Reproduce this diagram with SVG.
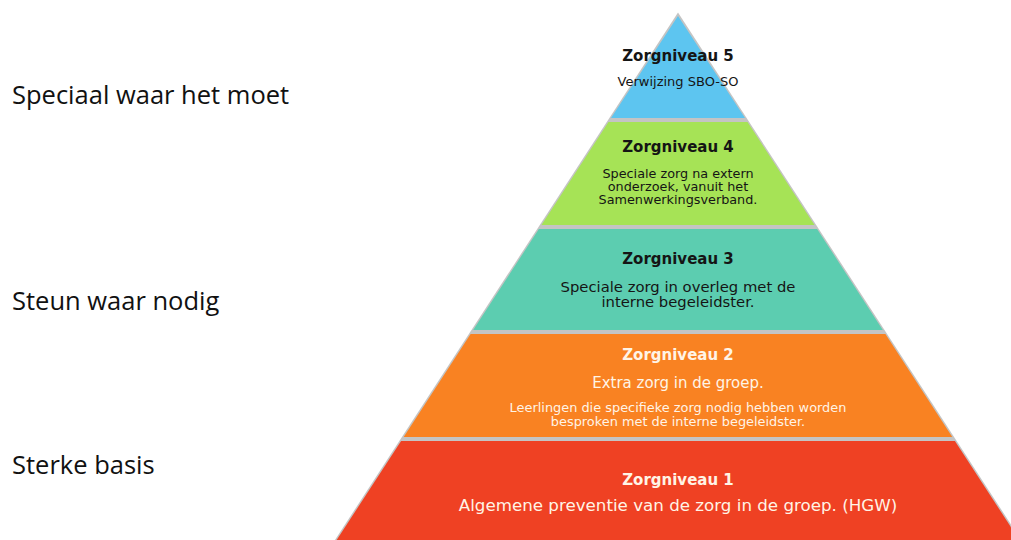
<svg xmlns="http://www.w3.org/2000/svg" width="1011" height="540" viewBox="0 0 1011 540">
  <style>
    .side { font-family: "Open Sans", "Noto Sans", sans-serif; font-size: 25.5px; fill: #111111; }
    .t { font-family: "DejaVu Sans", "Liberation Sans", sans-serif; text-anchor: middle; }
    .title { font-weight: bold; font-size: 15px; }
    .dark { fill: #151515; }
    .light { fill: #fff4e6; }
  </style>
  <rect width="1011" height="540" fill="#ffffff"/>
  <g id="labels">
    <text class="side" x="12" y="104">Speciaal waar het moet</text>
    <text class="side" x="12" y="310">Steun waar nodig</text>
    <text class="side" x="12" y="474">Sterke basis</text>
  </g>
  <polygon points="678,12.5 333,543 1023,543" fill="#c4c4c4"/>
  <g id="level5">
    <polygon points="678,16 611,118 745,118" fill="#5dc5f0"/>
    <text class="t title dark" x="678" y="61">Zorgniveau 5</text>
    <text class="t dark" x="678" y="86" font-size="13">Verwijzing SBO-SO</text>
  </g>
  <g id="level4">
    <polygon points="608.5,122 747.5,122 814.5,225 541.5,225" fill="#a6e356"/>
    <text class="t title dark" x="678" y="152">Zorgniveau 4</text>
    <text class="t dark" x="678" y="178" font-size="12.8">Speciale zorg na extern</text>
    <text class="t dark" x="678" y="191" font-size="12.8">onderzoek, vanuit het</text>
    <text class="t dark" x="678" y="204" font-size="12.8">Samenwerkingsverband.</text>
  </g>
  <g id="level3">
    <polygon points="538.9,229 817.1,229 882.8,330 473.2,330" fill="#5ccdb0"/>
    <text class="t title dark" x="678" y="264">Zorgniveau 3</text>
    <text class="t dark" x="678" y="292" font-size="14.8">Speciale zorg in overleg met de</text>
    <text class="t dark" x="678" y="307" font-size="14.8">interne begeleidster.</text>
  </g>
  <g id="level2">
    <polygon points="470.6,334 885.4,334 952.3,437 403.7,437" fill="#f98222"/>
    <text class="t title light" x="678" y="360">Zorgniveau 2</text>
    <text class="t light" x="678" y="388" font-size="15">Extra zorg in de groep.</text>
    <text class="t light" x="678" y="412" font-size="12.9">Leerlingen die specifieke zorg nodig hebben worden</text>
    <text class="t light" x="678" y="426" font-size="12.9">besproken met de interne begeleidster.</text>
  </g>
  <g id="level1">
    <polygon points="401.1,441 954.9,441 1020,541 336,541" fill="#ef4123"/>
    <text class="t title light" x="678" y="485">Zorgniveau 1</text>
    <text class="t light" x="678" y="511" font-size="16.7">Algemene preventie van de zorg in de groep. (HGW)</text>
  </g>
  <g id="connectors"/>
</svg>
